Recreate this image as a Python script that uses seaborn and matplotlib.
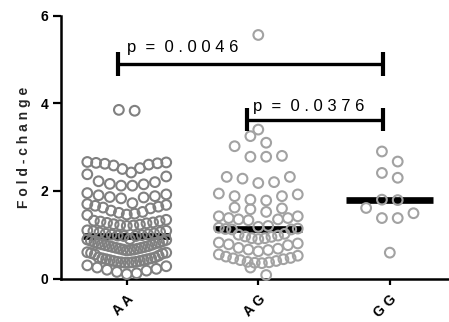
import numpy as np
import pandas as pd
import matplotlib
matplotlib.use("Agg")
import matplotlib.pyplot as plt
import seaborn as sns

# ---------------- data ----------------
groups = ["AA", "AG", "GG"]
group_labels = ["A A", "A G", "G G"]

aa_values = [
    3.85, 3.83,
    2.65, 2.63, 2.62, 2.58, 2.52, 2.50, 2.60, 2.64, 2.66,
    2.42, 2.33, 2.38,
    2.20, 2.15, 2.12, 2.12, 2.16, 2.22,
    1.92, 1.88, 1.85, 1.83, 1.86, 1.90, 1.95,
    1.70, 1.66, 1.62, 1.60, 1.64, 1.68, 1.72,
    1.52, 1.48, 1.45, 1.46, 1.50, 1.55,
    1.32, 1.30, 1.27, 1.24, 1.22, 1.20, 1.21, 1.23, 1.26, 1.28, 1.31, 1.34,
    1.10, 1.08, 1.05, 1.02, 1.00, 0.98, 0.97, 0.97, 0.99, 1.01, 1.03, 1.06, 1.09,
    0.90, 0.88, 0.85, 0.82, 0.80, 0.78, 0.76, 0.74, 0.72, 0.70, 0.68, 0.66,
    0.65, 0.64, 0.66, 0.68, 0.70, 0.72, 0.74, 0.77, 0.80, 0.83, 0.86, 0.89,
    0.60, 0.58, 0.55, 0.52, 0.57, 0.59,
    0.48, 0.46, 0.44, 0.42, 0.40, 0.38, 0.37, 0.36, 0.36, 0.37, 0.38, 0.40,
    0.42, 0.44, 0.46, 0.48,
    0.30, 0.25, 0.20, 0.15, 0.12, 0.10, 0.18, 0.22, 0.28,
]
ag_values = [
    5.56,
    3.40, 3.25, 3.10, 3.02,
    2.80, 2.78, 2.78,
    2.32, 2.20, 2.18, 2.28, 2.32,
    1.92, 1.88, 1.78, 1.80, 1.88, 1.94,
    1.62, 1.58, 1.60, 1.52,
    1.42, 1.38, 1.35, 1.33, 1.35, 1.38, 1.42,
    1.20, 1.16, 1.13, 1.12, 1.12, 1.14, 1.18,
    1.02, 0.98, 0.95, 0.92, 0.90, 0.92, 0.96, 1.00,
    0.82, 0.78, 0.80, 0.76,
    0.70, 0.66, 0.62, 0.65, 0.68,
    0.55, 0.52, 0.50,
    0.46, 0.42, 0.38, 0.36, 0.35, 0.37, 0.40, 0.44, 0.47,
    0.25, 0.08,
]
gg_values = [2.90, 2.67, 2.41, 2.30, 1.80, 1.79, 1.61, 1.38, 1.38, 1.49, 0.59]

medians = [0.97, 1.13, 1.79]

comparisons = [("AA", "GG", 4.90, "p = 0.0046"), ("AG", "GG", 3.63, "p = 0.0376")]

point_colors = {"AA": "#808080", "AG": "#a2a2a2", "GG": "#a2a2a2"}


def spaced(s):
    return " ".join(s)


def p_label(s):
    left, right = s.split(" = ")
    return left + "  =  " + spaced(right)


def prism_offsets(vals, row_h=0.26, dx=0.12, max_half=0.30):
    """Scatter-dot layout: values grouped into rows (ascending), spread center-out."""
    vals = np.asarray(vals, dtype=float)
    offs = np.zeros(len(vals))
    order = np.argsort(vals, kind="stable")
    rows_idx, cur, start = [], [], None
    for i in order:
        if start is None or vals[i] - start < row_h:
            if start is None:
                start = vals[i]
            cur.append(i)
        else:
            rows_idx.append(cur)
            cur, start = [i], vals[i]
    if cur:
        rows_idx.append(cur)
    for idx in rows_idx:
        n = len(idx)
        step = dx
        if n > 1 and (n - 1) * dx / 2 > max_half:
            step = 2 * max_half / (n - 1)
        pos = (np.arange(n) - (n - 1) / 2) * step
        slot = np.argsort(np.abs(pos) - 1e-9 * np.sign(pos), kind="stable")
        offs[np.asarray(idx)] = pos[slot]
    return offs


values_by_group = {"AA": aa_values, "AG": ag_values, "GG": gg_values}
rows = []
for gi, g in enumerate(groups):
    v = values_by_group[g]
    off = prism_offsets(v)
    for val, o in zip(v, off):
        rows.append({"group": g, "value": val, "xpos": gi + o})
df = pd.DataFrame(rows)

# ---------------- figure ----------------
sns.set_style("ticks")
plt.rcParams["font.family"] = ["Liberation Sans", "DejaVu Sans"]

fig = plt.figure(figsize=(4.49, 3.22), dpi=100)
ax = fig.add_axes([61 / 449, 43.5 / 322, 388 / 449, 262.8 / 322])

# median bars (behind points)
ax.hlines(medians, np.arange(3) - 0.33, np.arange(3) + 0.33,
          colors="black", linewidth=4.8, zorder=2)

sns.scatterplot(data=df, x="xpos", y="value", hue="group", palette=point_colors,
                s=49, linewidth=1.5, legend=False, ax=ax, zorder=3)
for coll in ax.collections:
    if hasattr(coll, "get_offsets") and len(coll.get_offsets()) > 3:
        fc = coll.get_facecolors()
        coll.set_edgecolors(fc)
        coll.set_facecolors("none")
        coll.set_clip_on(False)

# significance brackets
bracket_x = {"AA": -0.066, "AG": 0.915, "GG": 1.95}
text_dx = [0.071, 0.043]
text_dy = [0.28, 0.20]
for k, (g1, g2, y, label) in enumerate(comparisons):
    x1, x2 = bracket_x[g1], bracket_x[g2]
    ax.plot([x1, x2], [y, y], color="black", lw=2.4, solid_capstyle="butt", zorder=4)
    for xx in (x1, x2):
        ax.plot([xx, xx], [y - 0.27, y + 0.27], color="black", lw=3.0,
                solid_capstyle="butt", zorder=4)
    ax.text(x1 + text_dx[k], y + text_dy[k], p_label(label),
            fontsize=12, ha="left", va="baseline", color="black", zorder=5)

ax.set_xlim(-0.5, 2.45)
ax.set_ylim(0, 6)
ax.set_xticks(range(3))
ax.set_xticklabels(group_labels, rotation=45, ha="right", rotation_mode="anchor",
                   fontsize=10, fontweight="bold")
ax.set_yticks([0, 2, 4, 6])
ax.set_yticklabels(["0", "2", "4", "6"], fontsize=10, fontweight="bold")
ax.set_xlabel("")
ax.set_ylabel(spaced("Fold-change"), fontsize=10, fontweight="bold", labelpad=7)

for side in ("top", "right"):
    ax.spines[side].set_visible(False)
for side in ("left", "bottom"):
    ax.spines[side].set_linewidth(1.8)
    ax.spines[side].set_color("black")
ax.tick_params(axis="y", length=6, width=1.6, colors="black", pad=3)
ax.tick_params(axis="x", length=4, width=1.6, colors="black", pad=6)
ax.spines["bottom"].set_bounds(-0.5, 2.45)

fig.savefig("out.png", dpi=100)
